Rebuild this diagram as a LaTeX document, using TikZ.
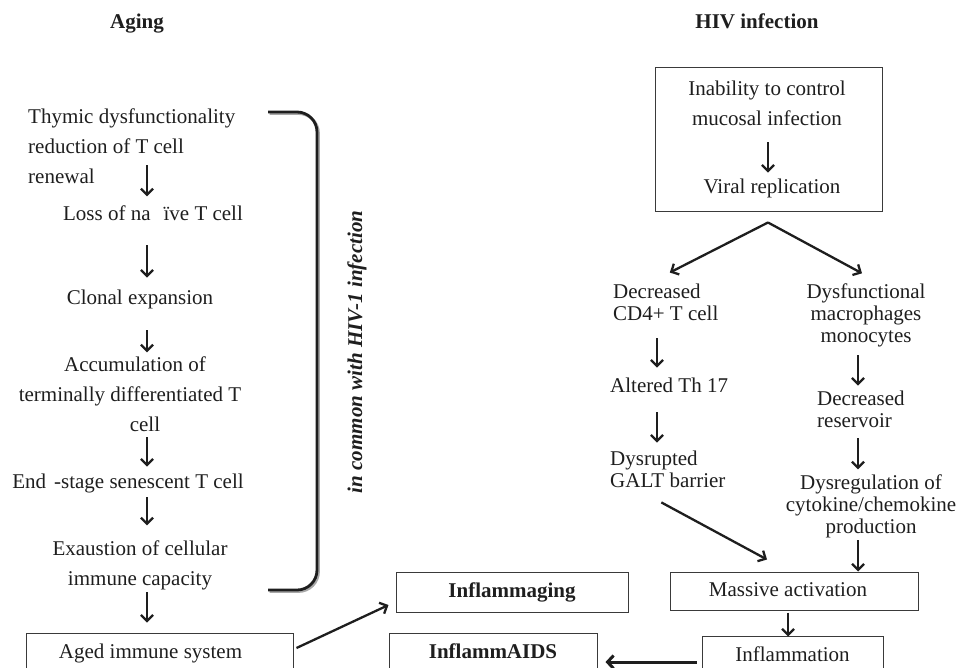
\documentclass[tikz,border=0pt]{standalone}
\usepackage{fontspec}
\setmainfont{Liberation Serif}
\usetikzlibrary{arrows.meta,calc}
\definecolor{ink}{HTML}{1E1E1E}
\definecolor{boxc}{HTML}{3A3A3A}
\definecolor{shade}{HTML}{A8A8A8}
\begin{document}
\begin{tikzpicture}[x=1pt,y=-1pt,
  every node/.style={font=\fontsize{21}{28}\selectfont, text=ink, inner sep=0pt},
  lt/.style={font=\fontsize{21}{30}\selectfont},
  rt/.style={font=\fontsize{21}{22}\selectfont},
  hdr/.style={font=\fontsize{21}{25}\selectfont\bfseries},
  boxn/.style={draw=boxc, line width=1pt, text height=14pt, text depth=4pt},
  arr/.style={draw=ink, line width=2.3pt, -{Straight Barb[length=6pt,width=12pt]}},
  thickarr/.style={draw=ink, line width=3pt, -{Straight Barb[length=6pt,width=13pt]}},
  brk/.style={draw=ink, line width=2.8pt, rounded corners=20pt},
  brkshadow/.style={draw=shade, line width=2.8pt, rounded corners=20pt},
]
\useasboundingbox (0,0) rectangle (960,667);

% headers
\node[hdr, anchor=base] (hAging) at (137,28) {Aging};
\node[hdr, anchor=base] (hHIV) at (757,28) {HIV infection};

% left column (multi-line nodes: base = last line)
\coordinate (ax) at (147,0);
\node[lt, align=left, anchor=base west] (thy) at (28,183) {Thymic dysfunctionality\\reduction of T cell\\renewal};
\node[anchor=base] (loss) at (153,220) {Loss of na\hspace{13pt}ïve T cell};
\node[anchor=base] (clonal) at (140,304) {Clonal expansion};
\node[lt, align=center, anchor=base] (acc) at (130,431) {\hspace*{10pt}Accumulation of\\terminally differentiated T\\\hspace*{30pt}cell};
\node[anchor=base] (endst) at (128,488) {End\hspace{8pt}-stage senescent T cell};
\node[lt, align=center, anchor=base] (exa) at (140,585) {Exaustion of cellular\\immune capacity};
\node[boxn, minimum width=267pt, minimum height=40pt] (aged) at (159.5,653) {\hspace*{-18pt}Aged immune system};

\draw[arr] ($(thy.south -| ax)+(0,-18)$) -- ($(loss.north -| ax)+(0,-8.7)$);
\draw[arr] ($(loss.south -| ax)+(0,25)$) -- ($(clonal.north -| ax)+(0,-11.7)$);
\draw[arr] ($(clonal.south -| ax)+(0,21.4)$) -- ($(acc.north -| ax)+(0,-3.7)$);
\draw[arr] ($(acc.south -| ax)+(0,6)$) -- ($(endst.north -| ax)+(0,-6.7)$);
\draw[arr] ($(endst.south -| ax)+(0,4.4)$) -- ($(exa.north -| ax)+(0,-14.7)$);
\draw[arr] ($(exa.south -| ax)+(0,2.4)$) -- ($(aged.north -| ax)+(0,-10)$);

% bracket and side label
\draw[brkshadow] (269.5,113.5) -- (318.5,113.5) -- (318.5,591.5) -- (269.5,591.5);
\draw[brk] (268,112) -- (317,112) -- (317,590) -- (268,590);
\node[font=\fontsize{21}{25}\selectfont\bfseries\itshape, rotate=90] (common) at (357,352) {in common with HIV-1 infection};

% HIV top box
\node[draw=boxc, line width=1pt, minimum width=227pt, minimum height=144pt] (hivbox) at (768.5,139) {};
\node[lt, align=center, anchor=base] (inab) at (767,125) {Inability to control\\mucosal infection};
\node[anchor=base] (viral) at (772,193) {Viral replication};
\draw[arr] ($(inab.south)+(1,17)$) -- ($(viral.north)+(-4,-5.7)$);

% fork
\coordinate (fork) at ($(hivbox.south)+(-0.5,11)$);
\node[rt, align=left, anchor=base west] (dcd4) at (613,320) {Decreased\\CD4+ T cell};
\node[rt, align=center, anchor=base] (dysf) at (866,342) {Dysfunctional\\macrophages\\monocytes};
\draw[arr] (fork) -- ($(dcd4.north)+(4,-10.7)$);
\draw[arr] (fork) -- ($(dysf.north)+(-4,-9.7)$);

% left branch
\coordinate (bx) at (657,0);
\node[anchor=base west] (th17) at (610,392) {Altered Th 17};
\node[rt, align=left, anchor=base west] (galt) at (610,487) {Dysrupted\\GALT barrier};
\draw[arr] ($(dcd4.south -| bx)+(0,18)$) -- ($(th17.north -| bx)+(0,-9.7)$);
\draw[arr] ($(th17.south -| bx)+(0,20)$) -- ($(galt.north -| bx)+(0,-7.7)$);

% right branch
\coordinate (cx) at (858,0);
\node[rt, align=left, anchor=base west] (decres) at (817,427) {Decreased\\reservoir};
\node[rt, align=center, anchor=base] (dysreg) at (871,533) {Dysregulation of\\cytokine/chemokine\\production};
\draw[arr] ($(dysf.south -| cx)+(0,8.4)$) -- ($(decres.north -| cx)+(0,-4.7)$);
\draw[arr] ($(decres.south -| cx)+(0,11)$) -- ($(dysreg.north -| cx)+(0,-4.7)$);

% bottom boxes
\node[boxn, minimum width=248pt, minimum height=38pt] (massive) at (794,591) {\hspace*{-12pt}Massive activation};
\node[boxn, minimum width=181pt, minimum height=40pt] (inflam) at (792.5,656) {Inflammation};
\node[boxn, minimum width=232pt, minimum height=40pt, font=\fontsize{21}{25}\selectfont\bfseries] (inflaging) at (512,592) {Inflammaging};
\node[boxn, minimum width=208pt, minimum height=40pt, font=\fontsize{21}{25}\selectfont\bfseries] (aids) at (493,653) {InflammAIDS};

\draw[arr] ($(dysreg.south -| cx)+(0,2.4)$) -- (massive.north -| cx);
\draw[arr] ($(galt.south)+(-6.5,15)$) -- ($(massive.north)+(-27,-12)$);
\draw[arr] ($(massive.south)+(-6,2)$) -- ($(inflam.north)+(-4.5,1)$);
\draw[thickarr] ($(inflam.west)+(-5,6)$) -- ($(aids.east)+(8,9)$);
\draw[arr] ($(aged.east)+(3,-5)$) -- ($(inflaging.west)+(-7,13)$);
\end{tikzpicture}
\end{document}
